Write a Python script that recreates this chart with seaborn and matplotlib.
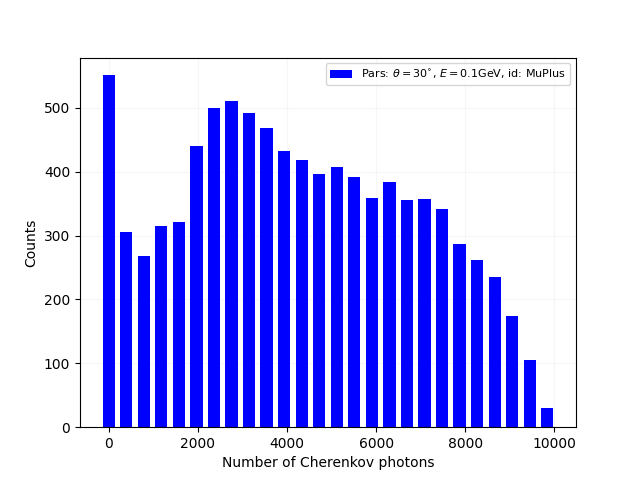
import numpy as np
import pandas as pd
import matplotlib
matplotlib.use("Agg")
import matplotlib.pyplot as plt
import seaborn as sns

bin_width = 393.7
n_bins = 26
bin_starts = [round(i * bin_width, 1) for i in range(n_bins)]
counts = [551, 305, 268, 315, 321, 440, 500, 511, 492, 469, 432, 418, 397,
          407, 392, 359, 384, 356, 357, 342, 287, 262, 235, 174, 105, 30]
label = r'Pars: $\theta=30^{\circ}$, $E=0.1$GeV, id: MuPlus'

df = pd.DataFrame({"photons": bin_starts, "counts": counts})

fig, ax = plt.subplots(figsize=(6.4, 4.8), dpi=100)
sns.barplot(data=df, x="photons", y="counts", native_scale=True, width=0.7,
            color="blue", saturation=1, linewidth=0, errorbar=None,
            label=label, ax=ax)
ax.grid(True, alpha=0.1)
ax.set_axisbelow(True)
ax.set_xlabel("Number of Cherenkov photons")
ax.set_ylabel("Counts")
ax.legend(loc="upper right", fontsize=8)
fig.savefig("out.png", dpi=100)
